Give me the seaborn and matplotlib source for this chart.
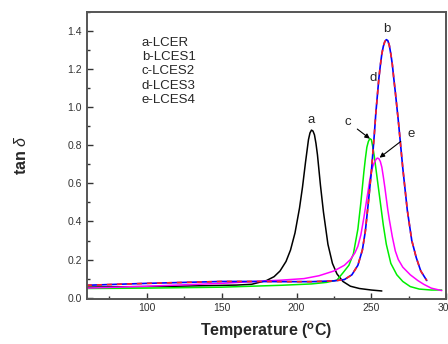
import seaborn as sns
import matplotlib.pyplot as plt
import pandas as pd
from matplotlib.ticker import MultipleLocator

temp_a = [60, 80, 100, 120, 140, 160, 170, 180, 185, 189, 193, 196, 199, 202, 204, 205, 206, 207, 208, 209, 210,
          211, 212, 213, 214, 215, 216, 218, 221, 224, 227, 231, 236, 242, 250, 257]
tan_a = [0.055, 0.057, 0.058, 0.060, 0.063, 0.066, 0.070, 0.09, 0.11, 0.14, 0.19, 0.25, 0.34, 0.47, 0.58, 0.645,
         0.71, 0.77, 0.83, 0.865, 0.88, 0.875, 0.855, 0.81, 0.75, 0.67, 0.59, 0.45, 0.28, 0.18, 0.125, 0.085, 0.06,
         0.048, 0.04, 0.035]

temp_b = [60, 80, 100, 125, 150, 170, 190, 210, 225, 232, 237, 241, 244, 246, 248, 250, 251, 252, 253, 254, 255,
          256, 257, 258, 259, 260, 261, 262, 263, 264, 265, 266, 268, 271, 274, 277, 280, 283, 287]
tan_b = [0.065, 0.07, 0.075, 0.08, 0.085, 0.085, 0.084, 0.084, 0.088, 0.095, 0.12, 0.17, 0.25, 0.35, 0.50, 0.66,
         0.76, 0.86, 0.97, 1.06, 1.15, 1.22, 1.28, 1.32, 1.345, 1.355, 1.35, 1.325, 1.28, 1.225, 1.15, 1.08, 0.93,
         0.68, 0.46, 0.30, 0.21, 0.14, 0.09]
# d-LCES3 lies on top of b
temp_d = temp_b
tan_d = tan_b

temp_c = [60, 100, 150, 190, 210, 220, 227, 231, 235, 238, 241, 243, 245, 246, 247, 248, 249, 250, 251, 252, 253,
          254, 256, 258, 260, 263, 267, 271, 276, 282, 290, 297]
tan_c = [0.048, 0.05, 0.055, 0.065, 0.072, 0.08, 0.092, 0.13, 0.17, 0.23, 0.36, 0.50, 0.66, 0.73, 0.79, 0.82,
         0.835, 0.83, 0.79, 0.74, 0.68, 0.62, 0.50, 0.38, 0.28, 0.18, 0.12, 0.085, 0.058, 0.045, 0.04, 0.04]

temp_e = [60, 100, 150, 170, 190, 205, 215, 225, 232, 236, 239, 241, 243, 245, 247, 249, 250, 251, 252, 253, 254,
          255, 256, 257, 258, 259, 260, 261, 262, 264, 266, 268, 271, 276, 281, 285, 290, 297]
tan_e = [0.05, 0.06, 0.075, 0.084, 0.092, 0.10, 0.115, 0.14, 0.17, 0.20, 0.235, 0.27, 0.33, 0.42, 0.52, 0.62,
         0.66, 0.69, 0.71, 0.725, 0.733, 0.73, 0.715, 0.685, 0.635, 0.58, 0.52, 0.46, 0.41, 0.32, 0.245, 0.2,
         0.16, 0.12, 0.09, 0.07, 0.05, 0.037]

legend_lines = ["a-LCER", "b-LCES1", "c-LCES2", "d-LCES3", "e-LCES4"]

sns.set_style("ticks")
plt.rcParams['font.family'] = ['Liberation Sans', 'DejaVu Sans']
plt.rcParams['mathtext.fontset'] = 'custom'
plt.rcParams['mathtext.rm'] = 'Liberation Sans'
plt.rcParams['mathtext.it'] = 'Liberation Sans:italic'
plt.rcParams['mathtext.bf'] = 'Liberation Sans:bold'

fig = plt.figure(figsize=(4.48, 3.44), dpi=100)
ax = fig.add_axes([0.194, 0.132, 0.802, 0.833])

sns.lineplot(x=temp_a, y=tan_a, color="black", lw=1.1, ax=ax, sort=False, estimator=None)
sns.lineplot(x=temp_c, y=tan_c, color="#00ee00", lw=1.1, ax=ax, sort=False, estimator=None)
sns.lineplot(x=temp_e, y=tan_e, color="#ff00ff", lw=1.1, ax=ax, sort=False, estimator=None)
sns.lineplot(x=temp_b, y=tan_b, color="#0000ff", lw=1.2, ax=ax, sort=False, estimator=None)
sns.lineplot(x=temp_d, y=tan_d, color="#ff2020", lw=1.2, ax=ax, sort=False, estimator=None, dashes=False,
             linestyle=(0, (3, 3)))

ax.set_xlim(60, 300)
ax.set_ylim(-0.005, 1.5)
ax.xaxis.set_major_locator(MultipleLocator(50))
ax.xaxis.set_minor_locator(MultipleLocator(25))
ax.yaxis.set_major_locator(MultipleLocator(0.2))
ax.yaxis.set_minor_locator(MultipleLocator(0.1))
ax.yaxis.set_major_formatter(plt.FormatStrFormatter('%.1f'))
ax.tick_params(which='both', direction='in', labelsize=7.5, colors='#333333', width=1)
ax.tick_params(which='major', length=4)
ax.tick_params(which='minor', length=2.5)
for s in ax.spines.values():
    s.set_color('#555555')
    s.set_linewidth(1.4)

ax.set_xlabel(r"Temperature ($^\mathregular{o}$C)", fontsize=11.5, fontweight='bold', labelpad=6)
ax.set_ylabel(r"tan $\mathit{\delta}$", fontsize=11.5, fontweight='bold', labelpad=28)

for i, t in enumerate(legend_lines):
    ax.text(96.6, 1.337 - i * 0.0745, t, fontsize=9.5, va='center', ha='left')

ax.text(209.5, 0.935, "a", fontsize=9.5, ha='center', va='center')
ax.text(260.5, 1.41, "b", fontsize=9.5, ha='center', va='center')
ax.text(251.5, 1.155, "d", fontsize=9.5, ha='center', va='center')
ax.annotate("c", xy=(249, 0.835), xytext=(234, 0.925), fontsize=9.5, ha='center', va='center',
            arrowprops=dict(arrowstyle='-|>', color='black', lw=0.8, shrinkA=3, shrinkB=0, mutation_scale=7))
ax.annotate("e", xy=(255.5, 0.735), xytext=(276.5, 0.862), fontsize=9.5, ha='center', va='center',
            arrowprops=dict(arrowstyle='-|>', color='black', lw=0.8, shrinkA=3, shrinkB=0, mutation_scale=7))

plt.savefig("out.png", dpi=100)
